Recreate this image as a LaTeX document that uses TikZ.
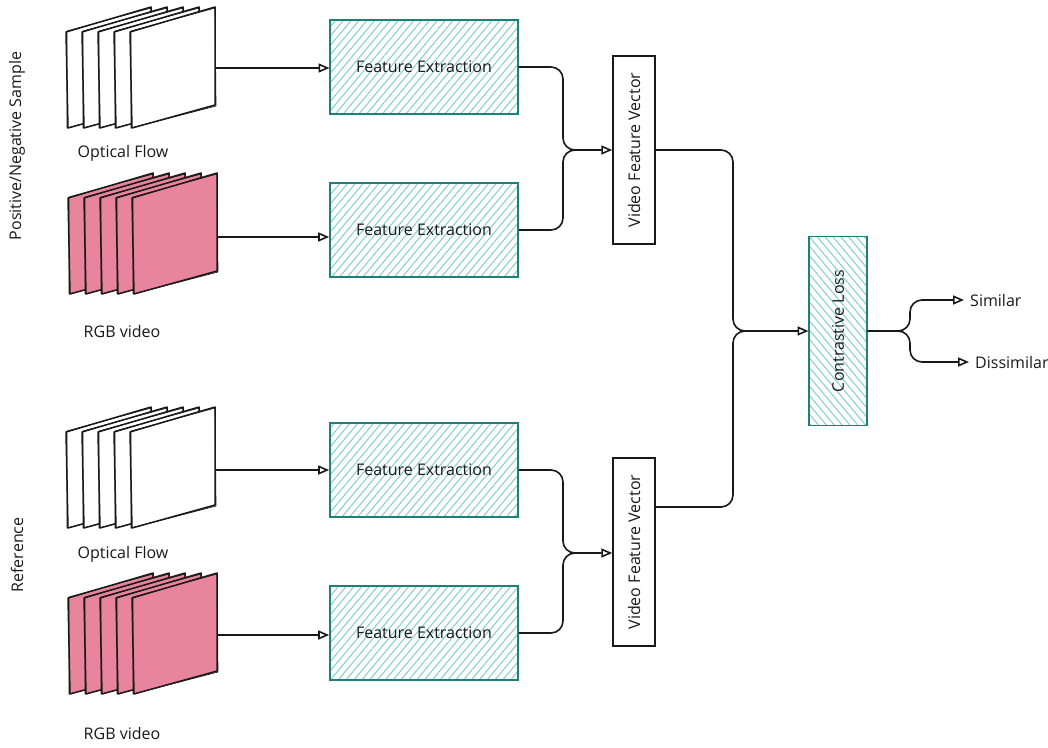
\documentclass[tikz,border=0pt]{standalone}
\usepackage{fontspec}
\setmainfont{Open Sans}
\usetikzlibrary{arrows.meta,patterns.meta}

\definecolor{tealdark}{RGB}{30,128,118}
\definecolor{teallight}{RGB}{128,208,198}
\definecolor{rose}{RGB}{232,132,155}
\definecolor{ink}{RGB}{25,25,25}

% one sheet of a frame stack, top-left corner at (#1,#2)
\newcommand\sheet[3]{%
  \filldraw[sheetline,fill=#3] (#1,#2) -- ++(85,-25) -- ++(0,98) -- ++(-83,23) -- cycle;
  \draw[sheetline,line width=0.7pt] (#1+1,#2-1) -- ++(84,-23) -- ++(1,98) -- ++(-85,22) -- cycle;
}
% five sheets, drawn from back to front
\newcommand\stack[3]{%
  \foreach \k in {4,3,2,1,0} {\sheet{#1-16*\k}{#2}{#3}}
}

\tikzset{
  sheetline/.style={draw=ink,line width=1.5pt,line join=round},
  lbl/.style={font=\fontsize{16}{19}\selectfont,text=ink},
  feat/.style={draw=tealdark,line width=1.6pt,
    pattern={Lines[angle=50,distance=6pt,line width=1pt]},pattern color=teallight,
    minimum width=188pt,minimum height=94pt,inner sep=0pt,
    font=\fontsize{16}{19}\selectfont,text=ink},
  vec/.style={draw=ink,line width=1.5pt,fill=white,minimum width=42pt,minimum height=188pt,
    inner sep=0pt,font=\fontsize{16}{19}\selectfont,text=ink},
  loss/.style={draw=tealdark,line width=1.6pt,
    pattern={Lines[angle=-50,distance=6pt,line width=1pt]},pattern color=teallight,
    minimum width=58pt,minimum height=189pt,inner sep=0pt,
    font=\fontsize{16}{19}\selectfont,text=ink},
  link/.style={draw=ink,line width=1.6pt,rounded corners=12pt,
    -{Triangle[open,length=11pt,width=9pt]}},
  merge/.style={draw=ink,line width=1.6pt,rounded corners=12pt},
}

\begin{document}
\begin{tikzpicture}[x=1pt,y=-1pt]
\useasboundingbox (0,0) rectangle (1048,747);

% ---- side labels
\node[lbl,rotate=90] (possample) at (17,146) {Positive/Negative Sample};
\node[lbl,rotate=90] (reflabel) at (17,555) {Reference};

% ---- frame stacks
\stack{130}{32}{white}
\stack{132}{198}{rose}
\stack{130}{432}{white}
\stack{132}{598}{rose}

\coordinate (of1) at (215,68);
\coordinate (rgb1) at (217,237);
\coordinate (of2) at (215,470);
\coordinate (rgb2) at (217,635);

\node[lbl] (oflabel1) at (123,153) {Optical Flow};
\node[lbl] (rgblabel1) at (122,331) {RGB video};
\node[lbl] (oflabel2) at (123,554) {Optical Flow};
\node[lbl] (rgblabel2) at (122,733) {RGB video};

% ---- feature extraction
\node[feat] (fe1) at (424,67) {Feature Extraction};
\node[feat] (fe2) at (424,230) {Feature Extraction};
\node[feat] (fe3) at (424,470) {Feature Extraction};
\node[feat] (fe4) at (424,633) {Feature Extraction};

% ---- video feature vectors
\node[vec] (vfv1) at (634,150) {\rotatebox{90}{Video Feature Vector}};
\node[vec] (vfv2) at (634,552) {\rotatebox{90}{Video Feature Vector}};

% ---- contrastive loss
\node[loss] (cl) at (838,331) {\rotatebox{90}{Contrastive Loss}};

% ---- outcomes
\node[lbl,anchor=west,inner sep=6pt] (sim) at (964,300) {Similar};
\node[lbl,anchor=west,inner sep=6pt] (dis) at (969,362) {Dissimilar};

% ---- connectors: inputs
\draw[link] (of1) -- (of1 -| fe1.west);
\draw[link] (rgb1) -- (rgb1 -| fe2.west);
\draw[link] (of2) -- (of2 -| fe3.west);
\draw[link] (rgb2) -- (rgb2 -| fe4.west);

% ---- connectors: merge into feature vectors
\draw[merge] (fe1.east) -- (563,67) -- (563,150) -- (585,150);
\draw[link] (fe2.east) -- (563,230) -- (563,150) -- (vfv1.west);
\draw[merge] (fe3.east) -- (563,470) -- (563,553) -- (585,553);
\draw[link] (fe4.east) -- (563,633) -- (563,553) -- (vfv2.west |- 0,553);

% ---- connectors: into the loss
\draw[merge] (vfv1.east) -- (733,150) -- (733,331) -- (760,331);
\draw[link] (vfv2.east |- 0,507) -- (733,507) -- (733,331) -- (cl.west);

% ---- connectors: outcomes
\draw[link] (cl.east) -- (910,331) -- (910,300) -- (sim.west);
\draw[link] (cl.east) -- (910,331) -- (910,362) -- (dis.west);
\end{tikzpicture}
\end{document}
